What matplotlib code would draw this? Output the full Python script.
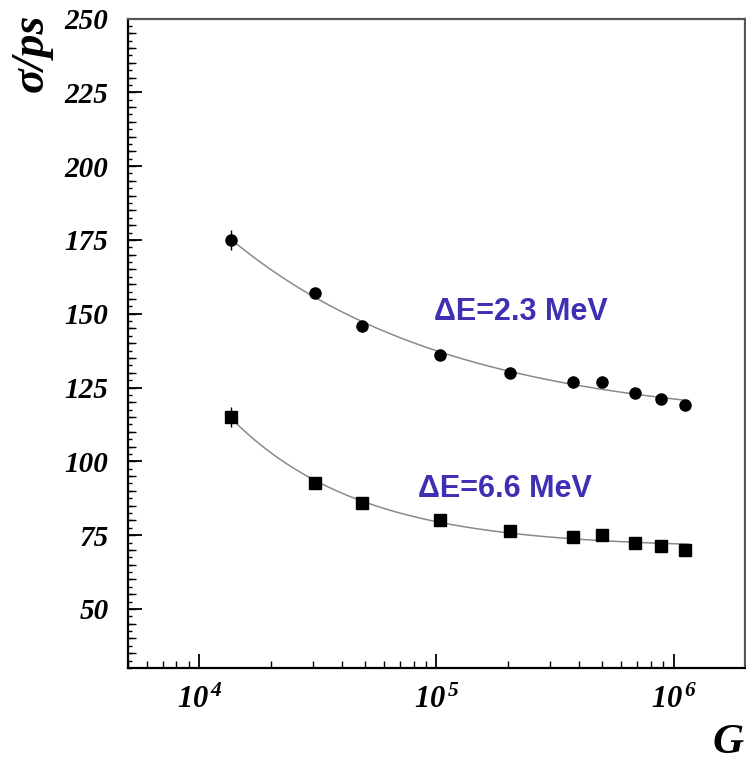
import numpy as np
import matplotlib
matplotlib.use('Agg')
import matplotlib.pyplot as plt
from matplotlib.ticker import FixedLocator, MultipleLocator, LogLocator, NullFormatter, FuncFormatter

# gain values (shared by both series)
gain = [13600, 30800, 48700, 103000, 204600, 377000, 498000, 690000, 885000, 1120000]

# dE = 2.3 MeV (circles)
sigma_23 = [175.0, 157.0, 146.0, 136.0, 130.0, 127.0, 127.0, 123.0, 121.0, 119.0]
err_23 = [3.5, 1.5, 1.2, 1.0, 1.0, 1.0, 1.0, 1.0, 1.0, 1.0]

# dE = 6.6 MeV (squares)
sigma_66 = [115.0, 92.7, 85.8, 80.0, 76.5, 74.5, 75.0, 72.5, 71.3, 70.0]
err_66 = [3.5, 1.5, 1.0, 1.0, 0.8, 0.8, 0.8, 0.8, 0.8, 0.8]

label_23 = "\u0394E=2.3 MeV"
label_66 = "\u0394E=6.6 MeV"

serif = 'Liberation Serif'
plt.rcParams['mathtext.fontset'] = 'custom'
plt.rcParams['mathtext.rm'] = 'Liberation Serif:bold:italic'
plt.rcParams['mathtext.it'] = 'Liberation Serif:bold:italic'
plt.rcParams['mathtext.bf'] = 'Liberation Serif:bold:italic'


def fit_curve(x, y):
    # sigma = a + b * G^-c, grid over c, linear least squares for a, b
    x = np.asarray(x, float)
    y = np.asarray(y, float)
    best = None
    for c in np.linspace(0.05, 1.5, 300):
        A = np.vstack([np.ones_like(x), x ** -c]).T
        coef, res, _, _ = np.linalg.lstsq(A, y, rcond=None)
        r = np.sum((A @ coef - y) ** 2)
        if best is None or r < best[0]:
            best = (r, coef[0], coef[1], c)
    _, a, b, c = best
    xs = np.logspace(np.log10(x[0]), np.log10(x[-1] * 1.03), 200)
    return xs, a + b * xs ** -c


fig = plt.figure(figsize=(7.46, 7.64), dpi=100)
ax = fig.add_axes([128 / 746, 96 / 764, 617 / 746, 649.5 / 764])

for ys, es, mk in [(sigma_23, err_23, 'o'), (sigma_66, err_66, 's')]:
    xs, fy = fit_curve(gain, ys)
    ax.plot(xs, fy, color='#8a8a8a', lw=1.1, zorder=2)
    ax.errorbar(gain, ys, yerr=es, fmt=mk, color='black', ms=8 if mk == 'o' else 8.5,
                elinewidth=1.0, capsize=0, zorder=3)

ax.set_xscale('log')
ax.set_xlim(5000, 2e6)
ax.set_ylim(30, 250)

# y ticks: major 25, medium 5 (secondary axis), small 2.5
ax.yaxis.set_major_locator(MultipleLocator(25))
ax.yaxis.set_minor_locator(MultipleLocator(2.5))
ax.set_yticks(np.arange(50, 251, 25))
ax.tick_params(axis='y', which='major', direction='in', length=10, width=1.3, pad=14,
               right=False, labelsize=21)
ax.tick_params(axis='y', which='minor', direction='in', length=3, width=1.0, right=False)
sec = ax.secondary_yaxis('left')
sec.set_yticks(np.arange(35, 250, 5))
sec.tick_params(direction='in', length=6, width=1.0, labelleft=False)
sec.spines['left'].set_visible(False)

ax.xaxis.set_major_locator(FixedLocator([1e4, 1e5, 1e6]))
ax.xaxis.set_minor_locator(LogLocator(base=10, subs=np.arange(2, 10)))
ax.xaxis.set_minor_formatter(NullFormatter())
ax.xaxis.set_major_formatter(FuncFormatter(lambda v, p: r'$10^{\,%d}$' % round(np.log10(v))))
ax.tick_params(axis='x', which='major', direction='in', length=10, width=1.3, pad=12,
               top=False, labelsize=22)
ax.tick_params(axis='x', which='minor', direction='in', length=5, width=1.0, top=False)

for lab in ax.get_yticklabels():
    lab.set_fontfamily(serif)
    lab.set_fontweight('bold')
    lab.set_fontstyle('italic')

for s in ax.spines.values():
    s.set_linewidth(1.6)
ax.spines['top'].set_color('#555555')
ax.spines['right'].set_color('#555555')

# axis titles placed like the ROOT canvas (top-left and bottom-right corners)
fig.text(32 / 746, 1 - 14 / 764, "\u03c3/ps", fontfamily=serif, fontweight='bold',
         fontstyle='italic', fontsize=33, rotation=90, ha='center', va='top')
fig.text(744 / 746, 2 / 764, "G", fontfamily=serif, fontweight='bold',
         fontstyle='italic', fontsize=31, ha='right', va='bottom')

ax.text(97600, 150.5, label_23, color='#3f2fb3', fontsize=22, fontweight='bold',
        fontfamily='Liberation Sans', ha='left', va='center')
ax.text(83600, 90.7, label_66, color='#3f2fb3', fontsize=22, fontweight='bold',
        fontfamily='Liberation Sans', ha='left', va='center')

fig.savefig('out.png', dpi=100)
